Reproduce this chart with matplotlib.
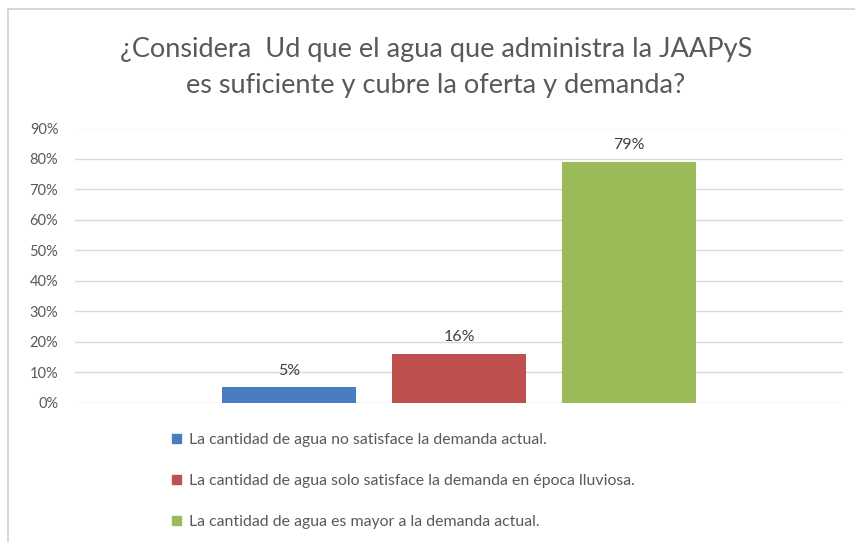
import matplotlib
matplotlib.use("Agg")
import matplotlib.pyplot as plt
from matplotlib.patches import Rectangle
from matplotlib.lines import Line2D

plt.rcParams['font.family'] = ['Lato', 'DejaVu Sans']

title = "¿Considera  Ud que el agua que administra la JAAPyS\nes suficiente y cubre la oferta y demanda?"
categories = [
    "La cantidad de agua no satisface la demanda actual.",
    "La cantidad de agua solo satisface la demanda en época lluviosa.",
    "La cantidad de agua es mayor a la demanda actual.",
]
values = [0.05, 0.16, 0.79]
value_labels = ["5%", "16%", "79%"]
colors = ["#4A7CC2", "#C0504D", "#9BBB59"]
yticks = [0.0, 0.1, 0.2, 0.3, 0.4, 0.5, 0.6, 0.7, 0.8, 0.9]
ytick_labels = ["0%", "10%", "20%", "30%", "40%", "50%", "60%", "70%", "80%", "90%"]

W, H = 855, 542
fig = plt.figure(figsize=(W / 100, H / 100), dpi=100)
fig.patch.set_facecolor("white")

# chart border (top and left visible)
fig.add_artist(Line2D([8 / W, 8 / W], [0, 1 - 9 / H], color="#D0D0D0", lw=1.2))
fig.add_artist(Line2D([8 / W, 1], [1 - 9 / H, 1 - 9 / H], color="#D0D0D0", lw=1.2))

ax = fig.add_axes([75 / W, (H - 402.7) / H, (843 - 75) / W, (402.7 - 128.5) / H])
x = list(range(len(values)))
bars = ax.bar(x, values, width=0.788, color=colors, label=categories, zorder=3)
ax.set_xlim(-1.259, 2 + 1.259)
ax.set_ylim(0, 0.9)
ax.set_yticks(yticks)
ax.set_yticklabels(ytick_labels)
ax.set_xticks([])
for s in ax.spines.values():
    s.set_visible(False)
ax.grid(axis="y", color="#D9D9D9", lw=1.0, zorder=0)
ax.tick_params(axis="y", length=0, pad=12, labelsize=10.5, labelcolor="#595959")

for xi, v, lab in zip(x, values, value_labels):
    ax.annotate(lab, (xi, v), xytext=(0, 7), textcoords="offset points",
                ha="center", va="bottom", fontsize=11.5, color="#404040")

fig.text(436 / W, 1 - 68 / H, title, ha="center", va="center", fontsize=19.5,
         color="#595959", linespacing=1.55)

handles = [Rectangle((0, 0), 1, 1, color=c) for c in colors]
leg = fig.legend(handles, categories, loc="upper left",
                 bbox_to_anchor=(158 / W, 1 - 419 / H), frameon=False,
                 fontsize=11.4, handlelength=0.55, handleheight=0.55,
                 handletextpad=0.5, labelspacing=1.7, labelcolor="#595959")

fig.savefig("out.png", dpi=100)
